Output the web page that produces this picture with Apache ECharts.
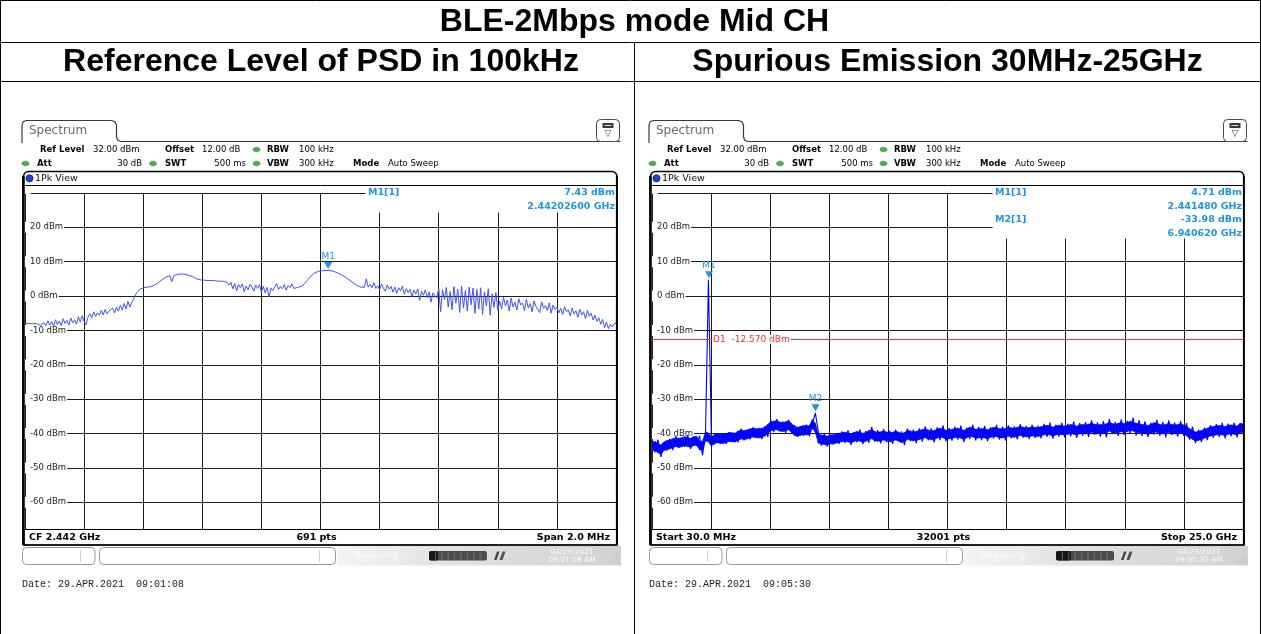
<!DOCTYPE html>
<html>
<head>
<meta charset="utf-8">
<title>BLE-2Mbps mode Mid CH</title>
<script src="https://cdn.jsdelivr.net/npm/echarts@6/dist/echarts.min.js"></script>
<style>
html,body{margin:0;padding:0;background:#fff;overflow:hidden;}
#chart{width:1261px;height:634px;}
</style>
</head>
<body>
<div id="chart"></div>
<script>
// ================= DATA =================
const pageTitle = 'BLE-2Mbps mode Mid CH';
const panelTitles = ['Reference Level of PSD in 100kHz', 'Spurious Emission 30MHz-25GHz'];

// level axis (dBm)
const levelTickLabels = [20, 10, 0, -10, -20, -30, -40, -50, -60];
const refLevelDbm = 32;

// analyser setup (same for both screenshots)
const setupRow1 = [['Ref Level', '32.00 dBm'], ['Offset', '12.00 dB'], ['RBW', '100 kHz']];
const setupRow2 = [['Att', '30 dB'], ['SWT', '500 ms'], ['VBW', '300 kHz'], ['Mode', 'Auto Sweep']];

// left: PSD trace, 2.441 .. 2.443 GHz (MHz)
const psdStartMHz = 2441;
const psdStopMHz = 2443;
const psdLevels = [
 -8.1,-8.2,-8.0,-8.3,-8.1,-8.4,-8.0,-8.2,-8.5,-8.1,-7.8,
 -8.6,-7.2,-8.4,-7.5,-8.8,-6.9,-8.3,-7.3,-8.6,-6.6,-8.0,-7.1,-8.5,-6.4,-7.8,-6.9,-8.2,-6.0,-7.6,-5.7,-7.4,-8.4,-6.2,
 -5.2,-6.3,-4.6,-5.9,-4.9,-5.6,-4.2,-5.5,-3.9,-5.2,-4.4,-4.8,-3.5,-4.9,-3.2,-4.4,-2.7,-4.1,-2.2,-3.8,-1.6,-3.2,-1.9,
 -0.8,0.4,1.3,1.9,2.2,2.4,
 2.5,2.6,2.8,2.7,3.0,3.2,3.5,3.9,4.3,4.8,5.2,5.5,5.8,5.9,
 4.2,
 5.9,6.1,6.3,6.4,6.4,6.4,6.3,6.2,6.0,
 5.8,5.6,5.3,5.0,4.8,4.7,4.6,4.6,4.6,4.5,4.6,4.5,4.4,4.4,4.3,4.3,4.2,4.3,4.1,4.0,
 3.2,4.0,2.1,3.6,1.5,3.3,2.4,3.5,1.2,2.9,1.8,3.4,2.6,1.4,3.1,2.2,3.3,1.1,2.8,0.9,
 2.5,-0.3,2.3,1.6,2.7,3.6,1.9,2.8,2.1,3.3,1.7,3.0,2.4,3.5,2.2,2.6,2.5,2.8,
 2.8,3.2,3.8,4.5,5.2,5.8,6.3,6.7,7.0,7.2,7.3,7.38,7.42,7.43,
 7.43,7.4,7.3,7.15,6.95,6.7,6.45,6.2,5.9,5.5,5.1,4.7,4.3,3.9,3.5,3.1,2.8,2.6,2.8,2.5,
 5.0,
 2.6,3.4,2.4,3.9,2.2,3.0,1.8,3.5,2.3,1.4,3.2,2.0,2.8,1.1,2.6,0.8,2.4,1.5,2.9,0.5,
 2.2,1.0,1.9,-0.2,1.7,0.6,2.1,-1.3,1.4,0.2,1.8,-0.5,1.2,-1.8,0.9,0.1,-0.6,
 2.2,-4.6,1.8,-1.0,2.5,-3.2,1.3,-4.0,2.7,-2.1,2.0,-4.8,2.9,-3.5,1.6,-4.4,
 2.6,-2.6,2.3,-5.0,1.9,-3.8,2.4,-5.4,1.2,-2.9,2.1,-5.6,0.6,-3.3,1.0,-4.1,
 -1.5,-3.8,-0.4,-2.9,-1.2,-4.4,-0.6,-3.2,-1.8,-4.1,-0.8,-2.6,-2.0,-4.3,-1.0,-3.5,-2.2,-4.6,-1.4,-3.0,
 -2.5,-4.8,-1.7,-3.6,-2.8,-4.2,-2.0,-5.0,-2.6,-3.9,
 -3.2,-4.9,-3.6,-5.4,-3.1,-4.6,-4.0,-5.8,-3.5,-5.2,-4.3,-6.2,-3.9,-5.5,-4.6,-6.6,-4.2,-5.9,-5.0,-7.0,
 -5.6,-7.4,-6.3,-8.2,-6.8,-9.2,-7.6,-9.5,-8.3,-9.0,-8.1,-7.8
];
const psdMarkers = [{ name: 'M1', freqMHz: 2442.026, level: 7.43, freqText: '2.44202600 GHz' }];
const psdFooter = ['CF 2.442 GHz', '691 pts', 'Span 2.0 MHz'];
const psdDate = 'Date: 29.APR.2021  09:01:08';
const psdClock = ['04/29/2021', '09:01:08 AM'];

// right: spurious sweep, 30 MHz .. 25 GHz (MHz)
const spurStartMHz = 30;
const spurStopMHz = 25000;
const spurLevels = [
 -42.0,-45.5,-41.8,-46.8,-42.5,-45.0,-41.6,-44.8,
 -40.8,-44.2,-41.2,-43.9,-40.5,-44.5,-40.9,-43.6,-40.6,
 -46.3,-40.8,4.71,-41.5,
 -43.2,-39.9,-42.9,-40.2,-43.0,-39.6,-42.4,-39.8,-42.6,
 -38.6,-42.0,-38.9,-41.7,-38.2,-41.3,-38.4,-41.6,-37.9,-41.0,
 -36.2,-39.6,-35.8,-39.4,-36.5,-39.8,-36.0,-39.2,
 -37.6,-41.0,-37.9,-40.6,-37.4,-40.8,
 -37.2,-33.98,-39.5,
 -43.5,-40.0,-43.8,-40.3,-43.2,-40.1,
 -43.0,-39.4,-42.8,-39.0,-43.3,-39.5,-42.6,-38.8,-43.1,-39.3,-42.7,-38.1,-42.4,-39.0,
 -42.9,-38.7,-42.5,-39.2,-43.0,-38.9,-42.3,-39.4,-43.4,-38.6,-42.2,-38.9,-42.8,-38.5,
 -42.4,-37.9,-42.0,-38.5,-42.6,-38.2,-41.9,-37.6,-42.3,-38.4,-42.1,-38.0,-41.8,-37.7,
 -42.5,-38.3,-41.6,-37.4,-42.0,-38.1,-41.9,-37.8,-42.2,-38.2,-41.5,-37.5,-41.8,-38.0,
 -42.0,-37.6,-41.4,-37.9,-41.7,-37.3,-41.2,-37.8,-41.6,-37.5,-41.3,-37.7,
 -41.4,-37.2,-41.0,-36.8,-41.5,-37.4,-40.9,-36.9,-41.2,-37.1,-40.8,-36.5,-41.3,-37.0,
 -40.6,-36.7,-41.0,-36.2,-40.4,-36.8,-40.9,-36.4,-41.1,-35.8,-40.2,-36.6,-40.7,-35.9,
 -40.5,-36.3,-40.0,-35.4,-40.6,-36.1,-40.8,-36.5,-41.0,-36.9,-40.3,-36.0,-40.7,-36.6,
 -41.1,-36.2,-40.5,-36.8,-40.9,-36.4,-40.6,-37.0,
 -41.8,-38.0,-42.8,-38.9,-42.5,-38.3,-41.9,-37.6,
 -41.2,-37.3,-41.0,-36.9,-41.4,-37.1,-40.8,-36.8,-41.1,-37.2,-39.6
];
const spurMarkers = [
  { name: 'M1', freqMHz: 2441.48, level: 4.71, freqText: '2.441480 GHz' },
  { name: 'M2', freqMHz: 6940.62, level: -33.98, freqText: '6.940620 GHz' }
];
const spurLimitName = 'D1';
const spurLimitDbm = -12.57;
const spurFooter = ['Start 30.0 MHz', '32001 pts', 'Stop 25.0 GHz'];
const spurDate = 'Date: 29.APR.2021  09:05:30';
const spurClock = ['04/29/2021', '09:05:30 AM'];

// ================= HELPERS =================
const UI = '"DejaVu Sans", Verdana, sans-serif';
function sweepX(n, start, stop, i) { return start + i * (stop - start) / (n - 1); }
function sweep(levels, start, stop) {
  return levels.map((v, i) => [sweepX(levels.length, start, stop, i), v]);
}
// solid core of the noisy spurious trace, taken from neighbouring samples
// (marker spikes are left to the line itself). Each item: [x0, lo0, hi0, x1, lo1, hi1]
function noiseCore(levels, markers, start, stop, half) {
  const n = levels.length;
  const spike = levels.map(v => markers.some(m => m.level === v));
  const w = levels.map((v, i) => spike[i] ? levels[i - 1] : v);
  const c = w.map((v, i) => (v + w[i + 1 < n ? i + 1 : i - 1]) / 2);
  const items = [];
  for (let i = 0; i < n - 1; i++) {
    items.push([sweepX(n, start, stop, i), c[i] - half, c[i] + half,
                sweepX(n, start, stop, i + 1), c[i + 1] - half, c[i + 1] + half]);
  }
  return items;
}
function txt(x, y, text, o) {
  o = o || {};
  const st = {
    text: text, fill: o.fill || '#000',
    font: (o.bold ? 'bold ' : '') + (o.size || 8.5) + 'px ' + (o.family || UI),
    align: o.align || 'left', verticalAlign: 'middle'
  };
  if (o.bg) { st.backgroundColor = o.bg; st.padding = o.pad || [0, 1]; }
  return { type: 'text', x: x, y: y, z: o.z || 20, silent: true, style: st };
}
function ln(x1, y1, x2, y2, o) {
  o = o || {};
  return { type: 'line', z: o.z || 20, silent: true, shape: { x1, y1, x2, y2 }, style: { stroke: o.stroke || '#000', lineWidth: o.w || 1 } };
}
function rc(x, y, w, h, o) {
  o = o || {};
  return { type: 'rect', z: o.z || 20, silent: true, shape: { x, y, width: w, height: h, r: o.r || 0 },
    style: { fill: o.fill || 'none', stroke: o.stroke || null, lineWidth: o.w || 1 } };
}
function dot(cx, cy, color, o) {
  o = o || {};
  return { type: 'ellipse', z: o.z || 20, silent: true, shape: { cx, cy, rx: o.rx || 3.5, ry: o.ry || 2.3 },
    style: { fill: color, stroke: o.stroke || '#2c7a2c', lineWidth: 0.6 } };
}
function fmtLevel(v) { return v.toFixed(2) + ' dBm'; }

function panelGraphics(dx, markers, footer, date, clock, box, progressDark) {
  const G = [];
  const MC = '#1e95e0';
  // tab "Spectrum"
  G.push({ type: 'polyline', z: 20, silent: true,
    shape: { points: [[22, 143], [22, 125], [23.2, 121.8], [26.5, 120.5], [111.5, 120.5], [114.8, 121.8], [116.5, 125], [116.5, 137], [117.6, 140], [120.5, 141.5], [620.5, 141.5]].map(q => [q[0] + dx, q[1]]) },
    style: { stroke: '#3a3a3a', lineWidth: 1.2, fill: null } });
  G.push(txt(29 + dx, 131, 'Spectrum', { size: 12, fill: '#6a6a6a' }));
  // icon
  G.push(rc(596.5 + dx, 119.5, 23, 22, { r: 4, stroke: '#4a4a4a', fill: '#fff' }));
  G.push(rc(602.5 + dx, 123, 11, 5, { fill: '#3a3a3a' }));
  G.push(ln(604.5 + dx, 125.5, 611.5 + dx, 125.5, { stroke: '#ddd', w: 1 }));
  G.push(txt(608 + dx, 134, '\u25BD', { size: 9, align: 'center', fill: '#333' }));
  // header rows
  const r1 = 149.5, r2 = 163.5, GC = '#4cb04c';
  G.push(txt(40 + dx, r1, setupRow1[0][0], { bold: true }));
  G.push(txt(93 + dx, r1, setupRow1[0][1]));
  G.push(txt(165 + dx, r1, setupRow1[1][0], { bold: true }));
  G.push(txt(202 + dx, r1, setupRow1[1][1]));
  G.push(dot(256.5 + dx, r1, GC));
  G.push(txt(267 + dx, r1, setupRow1[2][0], { bold: true }));
  G.push(txt(299 + dx, r1, setupRow1[2][1]));
  G.push(dot(25.5 + dx, r2, GC));
  G.push(txt(37 + dx, r2, setupRow2[0][0], { bold: true }));
  G.push(txt(142 + dx, r2, setupRow2[0][1], { align: 'right' }));
  G.push(dot(153 + dx, r2, GC));
  G.push(txt(165 + dx, r2, setupRow2[1][0], { bold: true }));
  G.push(txt(246 + dx, r2, setupRow2[1][1], { align: 'right' }));
  G.push(dot(256.5 + dx, r2, GC));
  G.push(txt(267 + dx, r2, setupRow2[2][0], { bold: true }));
  G.push(txt(299 + dx, r2, setupRow2[2][1]));
  G.push(txt(353 + dx, r2, setupRow2[3][0], { bold: true }));
  G.push(txt(388 + dx, r2, setupRow2[3][1]));
  // window frame
  G.push(rc(23.5 + dx, 171.5, 593.5, 373.5, { r: [5, 5, 0, 0], stroke: '#000', w: 1.5, z: 31 }));
  G.push(ln(23.4 + dx, 176, 23.4 + dx, 545, { w: 2.6, z: 31 }));
  G.push(ln(616.8 + dx, 176, 616.8 + dx, 545, { w: 1.8, z: 31 }));
  G.push(ln(24 + dx, 185.5, 617 + dx, 185.5, { w: 1, z: 31 }));
  G.push({ type: 'circle', z: 31, silent: true, shape: { cx: 29.5 + dx, cy: 178.3, r: 3.6 }, style: { fill: '#1f3fd6', stroke: '#0c1f80', lineWidth: 0.7 } });
  G.push(txt(35 + dx, 178.5, '1Pk View', { size: 9.5, fill: '#111', z: 31 }));
  // marker info box (covers grid lines)
  G.push(rc(box.x + dx, 186, 617 - box.x, box.bottom - 186, { fill: '#fff', z: 10 }));
  const rows = [];
  markers.forEach(m => { rows.push([m.name + '[1]', fmtLevel(m.level)]); rows.push(['', m.freqText]); });
  rows.forEach((r, k) => {
    const y = 193 + k * 13.4;
    if (r[0]) G.push(txt(box.x + 2.5 + dx, y, r[0], { bold: true, size: 9.5, fill: MC, z: 12 }));
    G.push(txt(615 + dx, y, r[1], { bold: true, size: 9.5, fill: MC, align: 'right', z: 12 }));
  });
  // footer
  G.push(rc(24 + dx, 529.5, 593, 15.5, { fill: '#fff', stroke: '#000', w: 1, z: 30 }));
  G.push(txt(29 + dx, 537.5, footer[0], { bold: true, size: 9.5, z: 32 }));
  G.push(txt(316.5 + dx, 537.5, footer[1], { bold: true, size: 9.5, align: 'center', z: 32 }));
  G.push(txt(610 + dx, 537.5, footer[2], { bold: true, size: 9.5, align: 'right', z: 32 }));
  // status bar
  G.push(rc(22.5 + dx, 547.5, 72.5, 17, { r: 4, stroke: '#9a9a9a', fill: '#fff' }));
  G.push(ln(80.5 + dx, 550, 80.5 + dx, 562, { stroke: '#cfcfcf' }));
  G.push(rc(99.5 + dx, 547.5, 236, 17, { r: 4, stroke: '#9a9a9a', fill: '#fff' }));
  G.push(ln(319.5 + dx, 550, 319.5 + dx, 562, { stroke: '#cfcfcf' }));
  G.push({ type: 'rect', z: 19, silent: true, shape: { x: 337 + dx, y: 546, width: 284, height: 19.5 },
    style: { fill: new echarts.graphic.LinearGradient(0, 0, 1, 0, [{ offset: 0, color: '#f3f3f3' }, { offset: 0.5, color: '#dedede' }, { offset: 1, color: '#d2d2d2' }]) } });
  G.push(txt(354 + dx, 556, 'Measuring...', { size: 8.5, fill: '#fbfbfb' }));
  G.push(rc(429 + dx, 551, 58, 9.5, { r: 2, fill: '#4d4d4d' }));
  G.push(rc(429 + dx, 551, progressDark, 9.5, { r: 2, fill: '#161616' }));
  for (let k = 1; k < 9; k++) G.push(ln(429 + k * 6.4 + dx, 552, 429 + k * 6.4 + dx, 559.5, { stroke: '#7a7a7a', w: 0.8 }));
  G.push({ type: 'polygon', z: 20, silent: true, shape: { points: [[494 + dx, 560], [497 + dx, 551.5], [499.5 + dx, 551.5], [496.5 + dx, 560]] }, style: { fill: '#444' } });
  G.push({ type: 'polygon', z: 20, silent: true, shape: { points: [[499.5 + dx, 560], [502.5 + dx, 551.5], [505.5 + dx, 551.5], [502.5 + dx, 560]] }, style: { fill: '#555' } });
  G.push(txt(572 + dx, 552.5, clock[0], { size: 7.5, fill: '#fafafa', align: 'center' }));
  G.push(txt(572 + dx, 560, clock[1], { size: 7.5, fill: '#fafafa', align: 'center' }));
  for (let k = 0; k < 4; k++) G.push(ln(608 + k * 3.5 + dx, 565, 618 + k * 0.8 + dx, 553 + k * 3, { stroke: '#bdbdbd', w: 0.7 }));
  // date line under the screenshot
  G.push(txt(22 + dx, 584, date, { size: 10, family: '"Liberation Mono", "DejaVu Sans Mono", monospace', fill: '#222' }));
  return G;
}

// ================= CHART =================
const chart = echarts.init(document.getElementById('chart'), null, { renderer: 'canvas', width: 1261, height: 634 });

const PX_PER_DB = 3.4375;
const Y0 = 296;                 // pixel row of 0 dBm
const DATA_MIN = -70;
const gridTopData = Y0 - refLevelDbm * PX_PER_DB;            // 186
const gridTopLines = Y0 - 30 * PX_PER_DB;                    // 30 dBm line
const gridBottom = Y0 - DATA_MIN * PX_PER_DB;                // -70 dBm

function dataGrid(left) { return { left: left, top: gridTopData, width: 591, height: gridBottom - gridTopData, outerBoundsMode: 'none', containLabel: false }; }
function lineGrid(left) { return { left: left, top: gridTopLines, width: 591, height: gridBottom - gridTopLines, outerBoundsMode: 'none', containLabel: false }; }

const GRID_LINE = { show: true, lineStyle: { color: '#1c1c1c', width: 1, type: 'solid' } };
function dataX(gi, mn, mx) { return { gridIndex: gi, type: 'value', min: mn, max: mx, show: false }; }
function dataY(gi) { return { gridIndex: gi, type: 'value', min: DATA_MIN, max: refLevelDbm, show: false }; }
function lineX(gi) {
  return { gridIndex: gi, type: 'value', min: 0, max: 10, interval: 1,
    axisLine: { show: false }, axisTick: { show: false }, axisLabel: { show: false }, splitLine: GRID_LINE };
}
function lineY(gi) {
  return { gridIndex: gi, type: 'value', min: DATA_MIN, max: 30, interval: 10,
    axisLine: { show: false }, axisTick: { show: false }, splitLine: GRID_LINE,
    axisLabel: { inside: true, margin: 0, color: '#222', fontSize: 8.5, fontFamily: 'DejaVu Sans',
      backgroundColor: '#fff', padding: [1, 1, 1, 5],
      formatter: v => (levelTickLabels.indexOf(v) >= 0 ? v + ' dBm' : '') } };
}

const MARK_COLOR = '#1e95e0';
function markerPoints(markers) {
  return {
    symbol: 'triangle', symbolRotate: 180, symbolSize: [8, 7], symbolOffset: [0, -5],
    itemStyle: { color: MARK_COLOR },
    label: { show: true, position: 'top', distance: 1, formatter: '{b}', color: MARK_COLOR, fontSize: 9, fontFamily: 'DejaVu Sans' },
    data: markers.map(m => ({ name: m.name, coord: [m.freqMHz, m.level] }))
  };
}

const spurCore = noiseCore(spurLevels, spurMarkers, spurStartMHz, spurStopMHz, 1.3);

const option = {
  animation: false,
  backgroundColor: '#fff',
  grid: [dataGrid(25), lineGrid(25), dataGrid(652), lineGrid(652)],
  xAxis: [dataX(0, psdStartMHz, psdStopMHz), lineX(1), dataX(2, spurStartMHz, spurStopMHz), lineX(3)],
  yAxis: [dataY(0), lineY(1), dataY(2), lineY(3)],
  series: [
    {
      name: 'PSD', type: 'line', xAxisIndex: 0, yAxisIndex: 0,
      data: sweep(psdLevels, psdStartMHz, psdStopMHz),
      showSymbol: false, symbol: 'none', z: 4,
      lineStyle: { color: '#4152f2', width: 1 },
      markPoint: markerPoints(psdMarkers)
    },
    {
      name: 'core', type: 'custom', xAxisIndex: 2, yAxisIndex: 2, z: 3, silent: true, clip: true,
      encode: { x: [0, 3], y: [1, 2, 4, 5] },
      data: spurCore,
      renderItem: function (params, api) {
        const a = api.coord([api.value(0), api.value(1)]);
        const b = api.coord([api.value(3), api.value(4)]);
        const c = api.coord([api.value(3), api.value(5)]);
        const d = api.coord([api.value(0), api.value(2)]);
        return { type: 'polygon', shape: { points: [a, b, c, d] },
          style: { fill: '#0000ff', stroke: '#0000ff', lineWidth: 0.6 } };
      }
    },
    {
      name: 'Spurious', type: 'line', xAxisIndex: 2, yAxisIndex: 2,
      data: sweep(spurLevels, spurStartMHz, spurStopMHz),
      showSymbol: false, symbol: 'none', z: 4,
      lineStyle: { color: '#0000ff', width: 1.1 },
      markPoint: markerPoints(spurMarkers),
      markLine: {
        silent: true, symbol: ['none', 'none'], label: { show: false },
        lineStyle: { color: '#ff3434', width: 1.2, type: 'solid' },
        data: [{ yAxis: spurLimitDbm }]
      }
    }
  ]
};
chart.setOption(option);

// ---------- page chrome / table ----------
const G = [];
G.push(ln(0, 0.5, 1261, 0.5, { w: 1 }));
G.push(ln(0.5, 0, 0.5, 634, { w: 1 }));
G.push(ln(1260.5, 0, 1260.5, 634, { w: 1 }));
G.push(ln(0, 42.5, 1261, 42.5, { w: 1 }));
G.push(ln(0, 81.5, 1261, 81.5, { w: 1 }));
G.push(ln(634.5, 42, 634.5, 634, { w: 1 }));
const TF = '"Liberation Sans", Arial, sans-serif';
G.push(txt(634.5, 22, pageTitle, { bold: true, size: 32, family: TF, align: 'center' }));
G.push(txt(321, 62, panelTitles[0], { bold: true, size: 32, family: TF, align: 'center' }));
G.push(txt(947.5, 62, panelTitles[1], { bold: true, size: 32, family: TF, align: 'center' }));

panelGraphics(0, psdMarkers, psdFooter, psdDate, psdClock, { x: 365.5, bottom: 212.5 }, 9).forEach(e => G.push(e));
panelGraphics(627, spurMarkers, spurFooter, spurDate, spurClock, { x: 365.5, bottom: 238.5 }, 15).forEach(e => G.push(e));

// D1 limit label, positioned on the limit line through the spur axes
const d1 = chart.convertToPixel({ gridIndex: 2 }, [spurMarkers[0].freqMHz, spurLimitDbm]);
G.push(txt(d1[0] + 3, d1[1], spurLimitName + '  ' + spurLimitDbm.toFixed(3) + ' dBm',
  { size: 9, fill: '#ff2e2e', bg: '#fff', pad: [0, 1], z: 12 }));

chart.setOption({ graphic: { elements: G } });
</script>
</body>
</html>
